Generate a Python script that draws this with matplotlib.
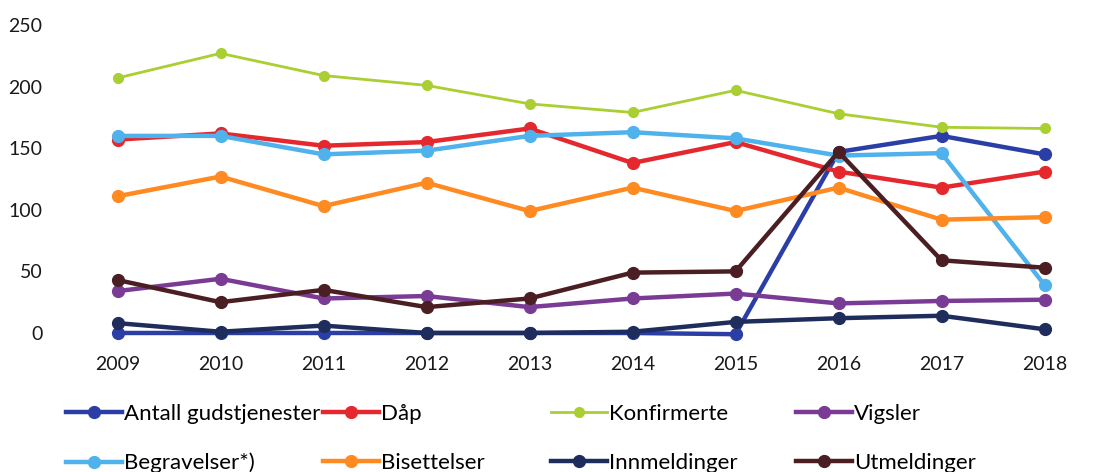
import numpy as np
import matplotlib.pyplot as plt
from matplotlib.lines import Line2D

plt.rcParams['font.family'] = ['Lato', 'DejaVu Sans']

years = [2009, 2010, 2011, 2012, 2013, 2014, 2015, 2016, 2017, 2018]

gudstjenester = [0, 0, 0, 0, 0, 0, -1, 147, 160, 145]
daap          = [157, 162, 152, 155, 166, 138, 155, 131, 118, 131]
konfirmerte   = [207, 227, 209, 201, 186, 179, 197, 178, 167, 166]
vigsler       = [34, 44, 28, 30, 21, 28, 32, 24, 26, 27]
begravelser   = [160, 160, 145, 148, 160, 163, 158, 144, 146, 39]
bisettelser   = [111, 127, 103, 122, 99, 118, 99, 118, 92, 94]
innmeldinger  = [8, 1, 6, 0, 0, 1, 9, 12, 14, 3]
utmeldinger   = [43, 25, 35, 21, 28, 49, 50, 147, 59, 53]

labels = ['Antall gudstjenester', 'Dåp', 'Konfirmerte', 'Vigsler',
          'Begravelser*)', 'Bisettelser', 'Innmeldinger', 'Utmeldinger']
series = [gudstjenester, daap, konfirmerte, vigsler,
          begravelser, bisettelser, innmeldinger, utmeldinger]
colors = ['#2b3ea6', '#e4282e', '#a9cf32', '#7a3b94',
          '#4fb2ec', '#ff8a22', '#1f2d5c', '#4a1e22']

fig = plt.figure(figsize=(10.95, 4.72), dpi=100)
ax = fig.add_axes([66 / 1095, 1 - 345.3 / 472, 1030 / 1095, 332.6 / 472])

x = np.arange(len(years))
handles = []
for lab, vals, col in zip(labels, series, colors):
    lw, ms = (2.0, 7) if lab == 'Konfirmerte' else (3.2, 8.5)
    ax.plot(x, vals, color=col, lw=lw, marker='o', ms=ms, clip_on=False)
    handles.append(Line2D([], [], color=col, lw=lw, marker='o', ms=ms, label=lab))

ax.set_xlim(-0.5, len(years) - 0.5)
ax.set_ylim(-10, 260)
ax.set_yticks([0, 50, 100, 150, 200, 250])
ax.set_xticks(x)
ax.set_xticklabels(years)
ax.tick_params(length=0, labelsize=14, colors='#1a1a1a')
ax.tick_params(axis='y', pad=17)
ax.tick_params(axis='x', pad=8)
for s in ax.spines.values():
    s.set_visible(False)

# legend: four columns, placed separately
col_x = [66, 323, 551, 796]
for i, cx in enumerate(col_x):
    fig.legend(handles=[handles[i], handles[i + 4]], loc='upper left',
               bbox_to_anchor=(cx / 1095, 1 - 404 / 472), frameon=False,
               fontsize=16, handlelength=2.5, handletextpad=0.1,
               labelspacing=1.3, borderaxespad=0, borderpad=0)

fig.savefig('out.png', dpi=100)
